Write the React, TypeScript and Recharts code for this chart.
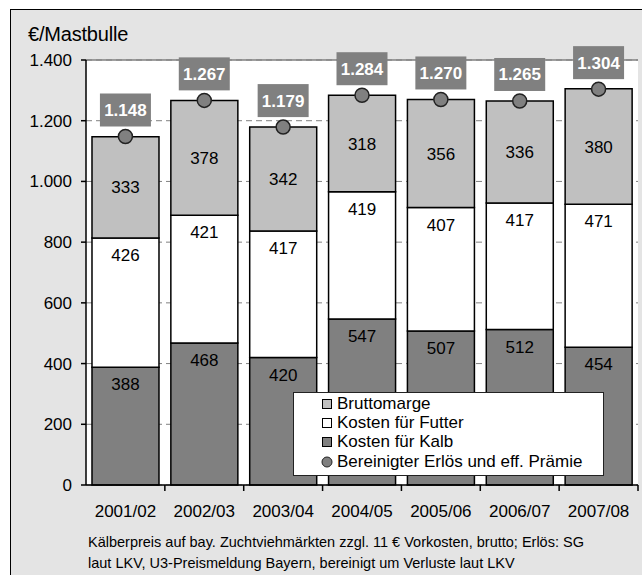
import { ComposedChart, Bar, Line, XAxis, YAxis, CartesianGrid, ReferenceLine, LabelList, Legend } from "recharts";

const seasons = ["2001/02", "2002/03", "2003/04", "2004/05", "2005/06", "2006/07", "2007/08"];
const kalb = [388, 468, 420, 547, 507, 512, 454];
const futter = [426, 421, 417, 419, 407, 417, 471];
const brutto = [333, 378, 342, 318, 356, 336, 380];
const erloes = [1148, 1267, 1179, 1284, 1270, 1265, 1304];
const yTicks = [0, 200, 400, 600, 800, 1000, 1200, 1400];

const data = seasons.map((s, i) => ({
  season: s,
  kalb: kalb[i],
  futter: futter[i],
  brutto: brutto[i],
  erloes: erloes[i],
}));

const W = 642;
const H = 575;
const AXIS_W = 86;
const RIGHT = 4;
const PLOT_W = W - AXIS_W - RIGHT;
const FONT = "'Liberation Sans', Arial, Helvetica, sans-serif";

const C_KALB = "#808080";
const C_FUTTER = "#ffffff";
const C_BRUTTO = "#c0c0c0";

const de = (v: number) => String(v).replace(/\B(?=(\d{3})+(?!\d))/g, ".");

const SeasonTick = (props: any) => {
  const { x, y, payload } = props;
  const half = PLOT_W / seasons.length / 2;
  return (
    <g>
      <line x1={x + half} x2={x + half} y1={y} y2={y + 6} stroke="#000" strokeWidth={1.5} />
      <text x={x} y={y + 32} textAnchor="middle" fontSize={17} fontFamily={FONT} fill="#000">
        {payload.value}
      </text>
    </g>
  );
};

const TotalLabel = (props: any) => {
  const { x, y, value } = props;
  if (x == null || y == null) return null;
  return (
    <g>
      <rect x={x - 25.5} y={y - 43} width={51} height={33} fill="#808080" />
      <text
        x={x}
        y={y - 26}
        textAnchor="middle"
        dominantBaseline="central"
        fontSize={17}
        fontWeight="bold"
        fontFamily={FONT}
        fill="#fff"
      >
        {de(value)}
      </text>
    </g>
  );
};

const legendItems = [
  { label: "Bruttomarge", color: C_BRUTTO, shape: "square" },
  { label: "Kosten für Futter", color: C_FUTTER, shape: "square" },
  { label: "Kosten für Kalb", color: C_KALB, shape: "square" },
  { label: "Bereinigter Erlös und eff. Prämie", color: "#808080", shape: "circle" },
];

const LegendBox = () => (
  <div
    style={{
      width: 311,
      height: 84,
      boxSizing: "border-box",
      background: "#fff",
      border: "1.5px solid #222",
      paddingTop: 1,
      fontFamily: FONT,
      fontSize: 17,
      color: "#000",
    }}
  >
    {legendItems.map((it) => (
      <div key={it.label} style={{ display: "flex", alignItems: "center", height: 19.3, paddingLeft: 27 }}>
        <svg width={12} height={12} style={{ marginRight: 4, flexShrink: 0 }}>
          {it.shape === "square" ? (
            <rect x={1.5} y={1.5} width={9} height={9} fill={it.color} stroke="#000" strokeWidth={1} />
          ) : (
            <circle cx={6} cy={6} r={5} fill={it.color} stroke="#222" strokeWidth={1} />
          )}
        </svg>
        <span style={{ whiteSpace: "nowrap" }}>{it.label}</span>
      </div>
    ))}
  </div>
);

export default function App() {
  return (
    <div style={{ position: "absolute", left: 0, top: 0, width: W, height: H, background: "#fff", overflow: "hidden" }}>
      <div
        style={{
          position: "absolute",
          left: 10,
          top: 9,
          width: W,
          height: H,
          background: "#e4e4e4",
          borderTop: "1.5px solid #000",
          borderLeft: "1.5px solid #000",
        }}
      />
      <div
        style={{
          position: "absolute",
          left: 28,
          top: 24,
          fontFamily: FONT,
          fontSize: 20,
          lineHeight: "20px",
          letterSpacing: -0.2,
          color: "#000",
        }}
      >
        €/Mastbulle
      </div>
      <div style={{ position: "absolute", left: 0, top: 0 }}>
        <ComposedChart
          width={W}
          height={H}
          data={data}
          margin={{ top: 60, right: RIGHT, bottom: 60, left: 0 }}
          barCategoryGap="7.6%"
        >
          <CartesianGrid vertical={false} stroke="#808080" strokeDasharray="6 4" fill="#fff" />
          <XAxis
            dataKey="season"
            height={30}
            tickSize={0}
            tickMargin={0}
            tickLine={false}
            axisLine={{ stroke: "#000", strokeWidth: 1.5 }}
            tick={<SeasonTick />}
            interval={0}
          />
          <YAxis
            width={AXIS_W}
            domain={[0, 1400]}
            ticks={yTicks}
            tickFormatter={de}
            tickSize={5}
            tickMargin={9}
            tickLine={{ stroke: "#000", strokeWidth: 1.5 }}
            axisLine={{ stroke: "#000", strokeWidth: 1.5 }}
            tick={{ fontSize: 17, fill: "#000", fontFamily: FONT }}
          />
          <YAxis
            yAxisId="r"
            orientation="right"
            width={0}
            domain={[0, 1400]}
            tick={false}
            tickLine={false}
            axisLine={{ stroke: "#808080", strokeWidth: 1.5 }}
          />
          <ReferenceLine y={1400} stroke="#808080" strokeWidth={1.5} />
          <Bar dataKey="kalb" stackId="a" fill={C_KALB} stroke="#000" strokeWidth={1.5} isAnimationActive={false}>
            <LabelList dataKey="kalb" position="insideTop" offset={11} fontSize={17} fill="#000" fontFamily={FONT} />
          </Bar>
          <Bar dataKey="futter" stackId="a" fill={C_FUTTER} stroke="#000" strokeWidth={1.5} isAnimationActive={false}>
            <LabelList dataKey="futter" position="insideTop" offset={11} fontSize={17} fill="#000" fontFamily={FONT} />
          </Bar>
          <Bar dataKey="brutto" stackId="a" fill={C_BRUTTO} stroke="#000" strokeWidth={1.5} isAnimationActive={false}>
            <LabelList dataKey="brutto" position="center" fontSize={17} fill="#000" fontFamily={FONT} />
          </Bar>
          <Line
            dataKey="erloes"
            stroke="none"
            dot={{ r: 7, fill: "#808080", stroke: "#222", strokeWidth: 1.5 }}
            activeDot={false}
            isAnimationActive={false}
          >
            <LabelList dataKey="erloes" content={<TotalLabel />} />
          </Line>
          <Legend
            layout="vertical"
            align="center"
            verticalAlign="middle"
            content={<LegendBox />}
            wrapperStyle={{ position: "absolute", left: 293, top: 392, width: 311, height: 84 }}
          />
        </ComposedChart>
      </div>
      <div
        style={{
          position: "absolute",
          left: 88,
          top: 532,
          fontFamily: FONT,
          fontSize: 14.5,
          lineHeight: "21px",
          color: "#000",
          whiteSpace: "nowrap",
        }}
      >
        <div>Kälberpreis auf bay. Zuchtviehmärkten zzgl. 11 € Vorkosten, brutto; Erlös: SG</div>
        <div>laut LKV, U3-Preismeldung Bayern, bereinigt um Verluste laut LKV</div>
      </div>
    </div>
  );
}
